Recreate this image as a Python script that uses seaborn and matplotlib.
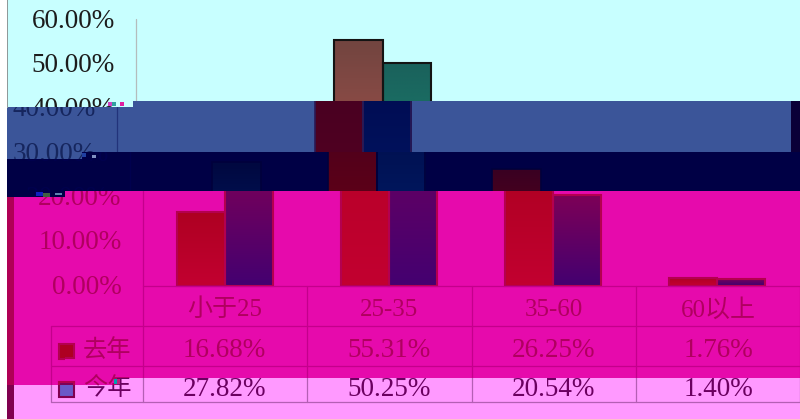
import numpy as np
import pandas as pd
import seaborn as sns
import matplotlib.pyplot as plt
from matplotlib.colors import to_rgb
from matplotlib.patches import Rectangle

ages = ["小于25", "25-35", "35-60", "60以上"]
last_year = [16.68, 55.31, 26.25, 1.76]
this_year = [27.82, 50.25, 20.54, 1.40]
y_ticks = [0, 10, 20, 30, 40, 50, 60]
series = ["去年", "今年"]

W, H = 800, 419
FONTS = ["Liberation Serif", "Noto Sans CJK SC"]

# the picture is a corrupted image: every horizontal band has its own colours and x shift
bands = {
    "top": dict(shift=-6.5, bg="#c8ffff", text="#1c1c1c", line="#b4bcbc", edge="#141414", lw=1.5,
                last=("#734540", "#c85a55"), this=("#1a625c", "#1a9a80")),
    "blue": dict(shift=-26, bg="#3b5599", text="#16265e", line="#22337a", edge="#2b1a55", lw=1.2,
                 last=("#440022", "#5c0020"), this=("#000a50", "#001c6c")),
    "navy": dict(shift=-12.5, bg="#000045", text="#00004e", line="#00004e", edge="#00003c", lw=1.2,
                 last=("#3a0022", "#700012"), this=("#000840", "#002070")),
    "pink": dict(shift=0, bg="#e60aac", text="#b0005f", line="#c4008c", edge="#b4004f", lw=1.5,
                 last=("#ae0022", "#c20030"), this=("#7d0057", "#450070")),
    "light": dict(shift=0, bg="#ff99ff", text="#6b0060", line="#b45fb4", edge="#800050", lw=1.5,
                  last=("#ae0022", "#c20030"), this=("#6a58c8", "#a888e8")),
}

# x0, y0, x1, y1 in pixels, then band name
regions = [
    (8, 0, 800, 101, "top"),
    (8, 101, 133, 107.5, "top"),
    (133, 101, 791, 152, "blue"),
    (7, 107.5, 133, 152, "blue"),
    (7, 152, 82, 159, "blue"),
    (82, 152, 800, 191, "navy"),
    (7, 159, 82, 191, "navy"),
    (7, 191, 65, 197.5, "navy"),
    (65, 191, 800, 378, "pink"),
    (14, 197.5, 65, 378, "pink"),
    (14, 378, 117, 385, "pink"),
    (117, 378, 800, 419, "light"),
    (14, 385, 117, 419, "light"),
]

# plain strips with nothing in them, the last ones are the small decode specks
strips = [
    (7, 0, 8, 107.5, "#8f9a9a"),
    (791, 101, 800, 152, "#0a0038"),
    (7, 197.5, 14, 385, "#b00055"),
    (7, 385, 14, 419, "#80004f"),
    (108, 102, 112, 106, "#d040c0"),
    (112, 102, 116, 106, "#30a0a0"),
    (120, 102, 124, 106, "#e020a0"),
    (82, 153, 86, 157, "#2040a0"),
    (92, 155, 96, 158, "#8090c0"),
    (36, 192, 43, 196, "#1020c0"),
    (43, 193, 50, 197, "#406040"),
    (55, 193, 62, 195, "#6080b0"),
    (114, 379, 117, 384, "#00a0b0"),
    (117, 379, 120, 384, "#c02080"),
]


def cat_x(px):
    # pixel x of the unshifted chart to category position
    return (px - 143) / 164 - 0.5


def val_y(py):
    # pixel y to percent value
    return (285.5 - py) / 4.43


def gradient(ax, patch, colors):
    x, w, h = patch.get_x(), patch.get_width(), patch.get_height()
    top, bottom = np.array(to_rgb(colors[0])), np.array(to_rgb(colors[1]))
    img = np.linspace(top, bottom, 32).reshape(32, 1, 3)
    ax.imshow(img, extent=(x, x + w, 0, h), aspect="auto", zorder=0.5, interpolation="bilinear")
    patch.set_facecolor("none")


def draw_chart(ax, band, box):
    st = bands[band]
    sns.barplot(data=df, x="age", y="share", hue="year", hue_order=series, order=ages,
                palette=[st["last"][0], st["this"][0]], width=0.59, errorbar=None, legend=False,
                edgecolor=st["edge"], linewidth=st["lw"], saturation=1, ax=ax)
    patches = list(ax.patches)
    for i, p in enumerate(patches):
        gradient(ax, p, st["last"] if i < len(ages) else st["this"])

    lines = [
        ([142.5, 142.5], [19.5, 285.5]),
        ([142.5, 800], [285.5, 285.5]),
        ([51, 800], [326, 326]),
        ([51, 800], [366, 366]),
        ([51, 800], [402, 402]),
        ([51, 51], [326, 402]),
    ]
    for cx in [307, 472, 636, 799.5]:
        lines.append(([cx, cx], [285.5, 402]))
    lines.append(([142.5, 142.5], [285.5, 402]))
    for xs, ys in lines:
        ax.plot([cat_x(v) for v in xs], [val_y(v) for v in ys], color=st["line"], lw=0.9, zorder=2)

    # a text goes only into the regions it really reaches, the rest would be clipped away anyway
    x0, y0, x1, y1 = box
    shift = st["shift"]

    def put(px, py, s, size, ha="center"):
        left = px - 90 if ha == "right" else px - 45
        right = px if ha == "right" else px + 45
        if right + shift < x0 or left + shift > x1 or py + 15 < y0 or py - 15 > y1:
            return
        ax.text(cat_x(px), val_y(py), s, fontsize=size, color=st["text"], family=FONTS, ha=ha,
                va="center", clip_on=True, zorder=3)

    for v in y_ticks:
        put(121.5, 285.5 - v * 4.43 + 1.5, f"{v:.2f}%", 19.5, ha="right")
    for i, name in enumerate(ages):
        center = 224.5 + i * 164.5
        put(center, 310, name, 18)
        put(center, 350.5, f"{last_year[i]:.2f}%", 19.5)
        put(center, 389.5, f"{this_year[i]:.2f}%", 19.5)

    put(107, 351, series[0], 17.5)
    put(107, 389, series[1], 17.5)
    for py0, py1, fill in [(344, 358.5, st["last"][0]), (382, 396.5, st["this"][0])]:
        ax.add_patch(Rectangle((cat_x(59), val_y(py1)), cat_x(74) - cat_x(59), val_y(py0) - val_y(py1),
                               facecolor=fill, edgecolor=st["edge"], lw=1.5, zorder=3))


df = pd.DataFrame({
    "age": ages * 2,
    "share": last_year + this_year,
    "year": [series[0]] * 4 + [series[1]] * 4,
})

sns.set_theme(style="white")
fig = plt.figure(figsize=(W / 100, H / 100), dpi=100, facecolor="white")

for x0, y0, x1, y1, color in strips:
    a = fig.add_axes([x0 / W, 1 - y1 / H, (x1 - x0) / W, (y1 - y0) / H])
    a.set_facecolor(color)
    a.set_zorder(5)
    a.set_xticks([])
    a.set_yticks([])
    for s in a.spines.values():
        s.set_visible(False)

for x0, y0, x1, y1, band in regions:
    ax = fig.add_axes([x0 / W, 1 - y1 / H, (x1 - x0) / W, (y1 - y0) / H])
    ax.set_facecolor(bands[band]["bg"])
    draw_chart(ax, band, (x0, y0, x1, y1))
    shift = bands[band]["shift"]
    ax.set_xlim(cat_x(x0 - shift), cat_x(x1 - shift))
    ax.set_ylim(val_y(y1), val_y(y0))
    ax.set_xlabel("")
    ax.set_ylabel("")
    ax.set_xticks([])
    ax.set_yticks([])
    for s in ax.spines.values():
        s.set_visible(False)

fig.savefig("out.png", dpi=100)
